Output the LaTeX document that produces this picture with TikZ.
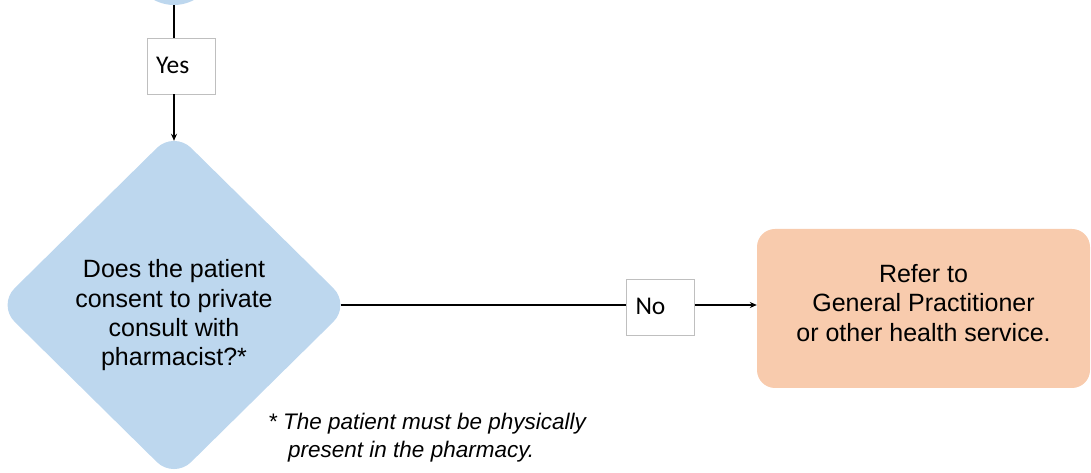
\documentclass[tikz,border=0pt]{standalone}
\usepackage{fontspec}
\setmainfont{Liberation Sans}
\newfontfamily\labelfont{Carlito}
\usetikzlibrary{shapes.geometric,arrows.meta}
\definecolor{decblue}{HTML}{BDD7EE}
\definecolor{refpeach}{HTML}{F8CBAD}
\definecolor{lblgray}{HTML}{BFBFBF}
\begin{document}
\begin{tikzpicture}[x=1pt,y=1pt,
  decision/.style={diamond, aspect=1, fill=decblue, draw=none, inner sep=0pt,
    minimum width=353pt, minimum height=348pt, rounded corners=24pt,
    align=center, font=\fontsize{25}{29.3}\selectfont},
  prevshape/.style={circle, fill=decblue, draw=none, minimum size=84pt, inner sep=0pt},
  lbl/.style={draw=lblgray, line width=0.8pt, fill=white,
    font=\labelfont\fontsize{25.5}{28}\selectfont, text width=50pt,
    inner xsep=9pt, inner ysep=0pt, align=left, minimum height=56pt},
  outcome/.style={rectangle, rounded corners=18pt, fill=refpeach, draw=none,
    minimum width=333pt, minimum height=159pt, inner sep=0pt, align=center,
    font=\fontsize{25}{29.5}\selectfont},
  note/.style={font=\itshape\fontsize{22.5}{28}\selectfont, align=left, inner sep=0pt},
  conn/.style={line width=1.3pt, draw=black},
  arr/.style={-{Stealth[length=7pt,width=6pt]}}
]
\useasboundingbox (0,0) rectangle (1091,473);
\clip (0,0) rectangle (1091,473);
\node[prevshape] (prev) at (174,510) {};
\node[lbl] (yes) at (181,407) {\raisebox{2pt}{Yes}};
\node[decision] (dec) at (174,168) {\rule{0pt}{39pt}Does the patient\\consent to private\\consult with\\pharmacist?*};
\node[lbl] (no) at (660.5,166) {\raisebox{1.5pt}{No}};
\node[outcome] (refer) at (923.5,164.5) {Refer to\\General Practitioner\\or other health service.\rule[-12pt]{0pt}{12pt}};
\node[note, anchor=north west] (fn) at (268,60) {* The patient must be physically\\\hspace*{20pt}present in the pharmacy.};
\draw[conn] (prev.south) -- (prev.south |- yes.north);
\draw[conn,arr] (prev.south |- yes.south) -- ([yshift=-10pt]dec.north);
\draw[conn] ([xshift=-10pt]dec.east) -- (no.west |- dec.east);
\draw[conn,arr] (no.east |- dec.east) -- (refer.west |- dec.east);
\end{tikzpicture}
\end{document}
